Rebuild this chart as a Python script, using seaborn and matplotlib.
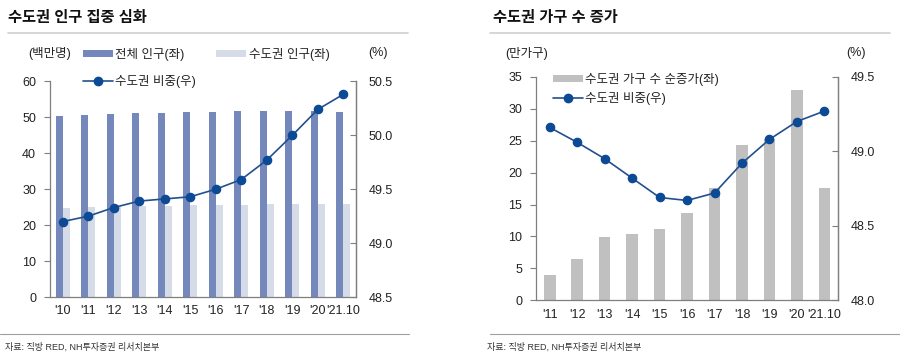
import numpy as np
import pandas as pd
import matplotlib
matplotlib.use("Agg")
import matplotlib.pyplot as plt
import seaborn as sns
from matplotlib.patches import Patch
from matplotlib.lines import Line2D

sns.set_theme(style="white")
plt.rcParams['font.family'] = ['Liberation Sans', 'Noto Sans CJK KR', 'DejaVu Sans']

# ---- Left chart data ----
years_l = ["'10", "'11", "'12", "'13", "'14", "'15", "'16", "'17", "'18", "'19", "'20", "'21.10"]
total_pop = [50.5, 50.7, 50.9, 51.1, 51.3, 51.4, 51.6, 51.7, 51.8, 51.8, 51.8, 51.6]
capital_pop = [24.9, 25.0, 25.2, 25.3, 25.4, 25.5, 25.6, 25.7, 25.8, 25.9, 26.0, 26.0]
capital_share_l = [49.2, 49.25, 49.33, 49.39, 49.41, 49.43, 49.5, 49.59, 49.77, 50.0, 50.24, 50.38]

# ---- Right chart data ----
years_r = ["'11", "'12", "'13", "'14", "'15", "'16", "'17", "'18", "'19", "'20", "'21.10"]
hh_increase = [3.9, 6.5, 9.9, 10.4, 11.1, 13.6, 17.6, 24.3, 25.3, 32.9, 17.6]
capital_share_r = [49.16, 49.06, 48.95, 48.82, 48.69, 48.67, 48.72, 48.92, 49.08, 49.2, 49.27]

DARK = "#7588bc"
LIGHT = "#d5dce8"
GRAY_BAR = "#c0c0c0"
LINE = "#22508e"
MARK = "#0c4a96"
SPINE = "#7f7f7f"
TXT = "#222222"

fig = plt.figure(figsize=(9, 3.54), dpi=100)

# ---------- Left chart ----------
axL = fig.add_axes([0.0556, 0.161, 0.340, 0.609])
df_l = pd.DataFrame({
    "year": years_l * 2,
    "val": total_pop + capital_pop,
    "series": ["전체 인구(좌)"] * len(years_l) + ["수도권 인구(좌)"] * len(years_l),
})
sns.barplot(data=df_l, x="year", y="val", hue="series", order=years_l,
            hue_order=["전체 인구(좌)", "수도권 인구(좌)"],
            palette=[DARK, LIGHT], width=0.54, gap=0, dodge=True,
            saturation=1, legend=False, ax=axL, edgecolor="none")
axL.set_ylim(0, 60)
axL.set_xlim(-0.5, len(years_l) - 0.5)
axL.set_yticks(range(0, 61, 10))
axL.set_xlabel("")
axL.set_ylabel("")
axL2 = axL.twinx()
df_ls = pd.DataFrame({"year": years_l, "share": capital_share_l})
sns.pointplot(data=df_ls, x="year", y="share", order=years_l, color=LINE,
              markers="o", markersize=6, linewidth=1.2, ax=axL2)
for ln in axL2.lines:
    ln.set_markerfacecolor(MARK)
    ln.set_markeredgecolor(MARK)
axL2.set_ylim(48.5, 50.5)
axL2.set_yticks([48.5, 49.0, 49.5, 50.0, 50.5])
axL2.set_yticklabels(["48.5", "49.0", "49.5", "50.0", "50.5"])
axL2.set_xlim(-0.5, len(years_l) - 0.5)
axL2.set_ylabel("")
axL2.set_xlabel("")

# ---------- Right chart ----------
axR = fig.add_axes([0.5956, 0.1517, 0.3356, 0.6313])
df_r = pd.DataFrame({"year": years_r, "inc": hh_increase})
sns.barplot(data=df_r, x="year", y="inc", order=years_r, color=GRAY_BAR,
            width=0.42, saturation=1, ax=axR, edgecolor="none")
axR.set_ylim(0, 35)
axR.set_xlim(-0.5, len(years_r) - 0.5)
axR.set_yticks(range(0, 36, 5))
axR.set_xlabel("")
axR.set_ylabel("")
axR2 = axR.twinx()
df_rs = pd.DataFrame({"year": years_r, "share": capital_share_r})
sns.pointplot(data=df_rs, x="year", y="share", order=years_r, color=LINE,
              markers="o", markersize=6, linewidth=1.2, ax=axR2)
for ln in axR2.lines:
    ln.set_markerfacecolor(MARK)
    ln.set_markeredgecolor(MARK)
axR2.set_ylim(48.0, 49.5)
axR2.set_yticks([48.0, 48.5, 49.0, 49.5])
axR2.set_yticklabels(["48.0", "48.5", "49.0", "49.5"])
axR2.set_xlim(-0.5, len(years_r) - 0.5)
axR2.set_ylabel("")
axR2.set_xlabel("")

# ---------- Styling ----------
for ax, ax2, n in [(axL, axL2, len(years_l)), (axR, axR2, len(years_r))]:
    for a in (ax, ax2):
        a.set_facecolor("none")
        a.grid(False)
        a.spines["top"].set_visible(False)
        for s in ["left", "right", "bottom"]:
            a.spines[s].set_color(SPINE)
            a.spines[s].set_linewidth(0.9)
    ax.tick_params(axis="y", which="major", direction="out", length=4, width=0.8,
                   color=SPINE, labelsize=9, labelcolor=TXT, pad=6)
    ax.tick_params(axis="x", which="major", length=0, labelsize=9, labelcolor=TXT, pad=6)
    ax.set_xticks(np.arange(n - 1) + 0.5, minor=True)
    ax.tick_params(axis="x", which="minor", direction="in", length=3, width=0.8, color=SPINE)
    ax2.tick_params(axis="y", which="major", direction="in", length=4, width=0.8,
                    color=SPINE, labelsize=9, labelcolor=TXT, pad=9)
    ax2.spines["left"].set_visible(False)
    ax2.spines["bottom"].set_visible(False)

# ---------- Legends ----------
hL = [Patch(facecolor=DARK, edgecolor="none", label="전체 인구(좌)"),
      Line2D([0], [0], color=LINE, lw=1.2, marker="o", markersize=6,
             markerfacecolor=MARK, markeredgecolor=MARK, label="수도권 비중(우)"),
      Patch(facecolor=LIGHT, edgecolor="none", label="수도권 인구(좌)")]
legL = fig.legend(handles=hL, ncol=2, loc="upper left", bbox_to_anchor=(0.092, 0.865),
                  frameon=False, fontsize=9, handlelength=2.4, handleheight=0.45,
                  handletextpad=0.2, columnspacing=1.6, labelspacing=1.15,
                  borderaxespad=0, borderpad=0)
for t in legL.get_texts():
    t.set_color(TXT)

hR = [Patch(facecolor=GRAY_BAR, edgecolor="none", label="수도권 가구 수 순증가(좌)"),
      Line2D([0], [0], color=LINE, lw=1.2, marker="o", markersize=6,
             markerfacecolor=MARK, markeredgecolor=MARK, label="수도권 비중(우)")]
legR = fig.legend(handles=hR, ncol=1, loc="upper left", bbox_to_anchor=(0.614, 0.793),
                  frameon=False, fontsize=9, handlelength=2.4, handleheight=0.45,
                  handletextpad=0.2, labelspacing=0.45,
                  borderaxespad=0, borderpad=0)
for t in legR.get_texts():
    t.set_color(TXT)

# ---------- Titles, units, lines, sources ----------
fig.text(8 / 900, 1 - 18 / 354, "수도권 인구 집중 심화", fontsize=11, fontweight="bold",
         color="#111111", va="center", ha="left")
fig.text(493 / 900, 1 - 18 / 354, "수도권 가구 수 증가", fontsize=11, fontweight="bold",
         color="#111111", va="center", ha="left")
fig.add_artist(Line2D([8 / 900, 408 / 900], [1 - 33 / 354] * 2, color="#cfcfcf", lw=1.2))
fig.add_artist(Line2D([490 / 900, 890 / 900], [1 - 33 / 354] * 2, color="#cfcfcf", lw=1.2))

fig.text(28 / 900, 1 - 53 / 354, "(백만명)", fontsize=9, color=TXT, va="center", ha="left")
fig.text(388 / 900, 1 - 53 / 354, "(%)", fontsize=9, color=TXT, va="center", ha="right")
fig.text(505 / 900, 1 - 53 / 354, "(만가구)", fontsize=9, color=TXT, va="center", ha="left")
fig.text(866 / 900, 1 - 53 / 354, "(%)", fontsize=9, color=TXT, va="center", ha="right")

fig.add_artist(Line2D([0 / 900, 409 / 900], [1 - 334 / 354] * 2, color="#a0a0a0", lw=0.8))
fig.add_artist(Line2D([490 / 900, 900 / 900], [1 - 334 / 354] * 2, color="#a0a0a0", lw=0.8))
fig.text(5 / 900, 1 - 347 / 354, "자료: 직방 RED, NH투자증권 리서치본부", fontsize=6.5,
         color="#333333", va="center", ha="left")
fig.text(487 / 900, 1 - 347 / 354, "자료: 직방 RED, NH투자증권 리서치본부", fontsize=6.5,
         color="#333333", va="center", ha="left")

fig.savefig("out.png", dpi=100, facecolor="white")
